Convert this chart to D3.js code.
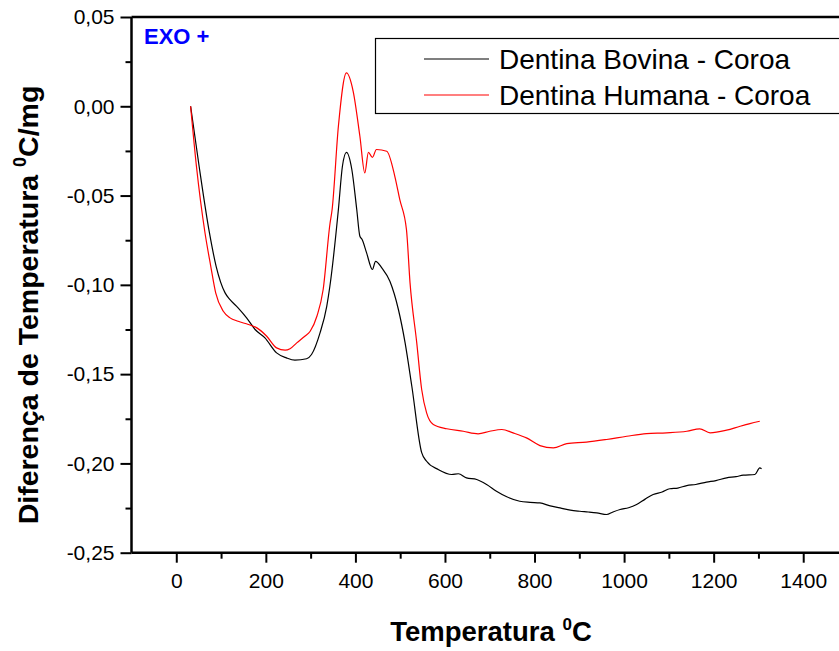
<!DOCTYPE html>
<html>
<head>
<meta charset="utf-8">
<script src="https://cdnjs.cloudflare.com/ajax/libs/d3/7.8.5/d3.min.js"></script>
<style>
  body { margin: 0; background: #fff; }
  svg { display: block; font-family: "Liberation Sans", Arial, sans-serif; }
</style>
</head>
<body>
<div id="chart"></div>
<script>
// temperature (C)
var tempBovina = [32, 51, 74, 89, 109, 120, 138, 157, 176, 198, 224, 246, 265, 291, 302, 321, 336, 343, 362, 371, 380, 392, 403, 410, 415, 425, 438, 445, 459, 477, 496, 511, 526, 548, 559, 585, 615, 630, 648, 671, 693, 715, 738, 767, 790, 812, 835, 857, 880, 901, 920, 939, 961, 975, 991, 1010, 1028, 1047, 1065, 1085, 1102, 1120, 1140, 1160, 1184, 1205, 1229, 1250, 1266, 1292, 1303, 1307];
var valBovina = [0, -0.0336, -0.0708, -0.0896, -0.1045, -0.1083, -0.1129, -0.1185, -0.1250, -0.1297, -0.1381, -0.1409, -0.1422, -0.1414, -0.1390, -0.1269, -0.1120, -0.1008, -0.0578, -0.0336, -0.0258, -0.0354, -0.0578, -0.0728, -0.0746, -0.0821, -0.0914, -0.0868, -0.0905, -0.0980, -0.1138, -0.1325, -0.1568, -0.1940, -0.1988, -0.2034, -0.2062, -0.2058, -0.2081, -0.2090, -0.2118, -0.2156, -0.2187, -0.2212, -0.2218, -0.2221, -0.2238, -0.2249, -0.2262, -0.2268, -0.2272, -0.2277, -0.2286, -0.2272, -0.2258, -0.2248, -0.2230, -0.2200, -0.2174, -0.2160, -0.2142, -0.2138, -0.2124, -0.2118, -0.2105, -0.2096, -0.2081, -0.2074, -0.2066, -0.2062, -0.2025, -0.2030];

var tempHumana = [32, 45, 64, 77, 88, 105, 120, 138, 161, 180, 202, 224, 243, 254, 269, 287, 299, 314, 328, 343, 348, 362, 380, 395, 410, 421, 429, 438, 447, 470, 488, 499, 514, 522, 537, 548, 559, 574, 604, 641, 674, 700, 727, 752, 782, 812, 842, 872, 916, 961, 1006, 1050, 1095, 1140, 1169, 1192, 1229, 1259, 1281, 1303];
var valHumana = [0, -0.0336, -0.0707, -0.0896, -0.1045, -0.1148, -0.1185, -0.1204, -0.1222, -0.1241, -0.1288, -0.1353, -0.1366, -0.1358, -0.1325, -0.1288, -0.1260, -0.1176, -0.1026, -0.0662, -0.0578, -0.0112, 0.0187, 0.0084, -0.0168, -0.0373, -0.0258, -0.0286, -0.0242, -0.0252, -0.0392, -0.0522, -0.0690, -0.0989, -0.1325, -0.1586, -0.1717, -0.1782, -0.1806, -0.1820, -0.1834, -0.1820, -0.1810, -0.1829, -0.1857, -0.1900, -0.1913, -0.1889, -0.1881, -0.1866, -0.1848, -0.1833, -0.1829, -0.1820, -0.1806, -0.1829, -0.1814, -0.1792, -0.1777, -0.1764];

var seriesNames = ["Dentina Bovina - Coroa", "Dentina Humana - Coroa"];
var seriesColors = ["#000000", "#ff0000"];

var xMajor = [0, 200, 400, 600, 800, 1000, 1200, 1400];
var xMinor = [100, 300, 500, 700, 900, 1100, 1300, 1500];
var yMajor = [0.05, 0, -0.05, -0.10, -0.15, -0.20, -0.25];
var yMinor = [0.025, -0.025, -0.075, -0.125, -0.175, -0.225];

var W = 839, H = 651;
var svg = d3.select("#chart").append("svg")
    .attr("width", W)
    .attr("height", H);

var x = d3.scaleLinear().domain([-100, 1500]).range([131.5, 848]);
var y = d3.scaleLinear().domain([-0.25, 0.05]).range([552.7, 17]);

function fmt(d) {
  var s = Math.abs(d).toFixed(2).replace(".", ",");
  return (d < -1e-9 ? "-" : "") + s;
}

// frame top line
svg.append("line")
    .attr("x1", x(-100)).attr("x2", x(1500))
    .attr("y1", y(0.05)).attr("y2", y(0.05))
    .attr("stroke", "#000").attr("stroke-width", 2.5);

// x axis
var xAxis = svg.append("g")
    .attr("transform", "translate(0," + y(-0.25) + ")")
    .call(d3.axisBottom(x).tickValues(xMajor).tickSize(10).tickPadding(10).tickFormat(d3.format("d")));
svg.append("g")
    .attr("transform", "translate(0," + y(-0.25) + ")")
    .call(d3.axisBottom(x).tickValues(xMinor).tickSize(6).tickFormat(""))
    .select(".domain").remove();

// y axis
var yAxis = svg.append("g")
    .attr("transform", "translate(" + x(-100) + ",0)")
    .call(d3.axisLeft(y).tickValues(yMajor).tickSize(11).tickPadding(6).tickFormat(fmt));
svg.append("g")
    .attr("transform", "translate(" + x(-100) + ",0)")
    .call(d3.axisLeft(y).tickValues(yMinor).tickSize(6).tickFormat(""))
    .select(".domain").remove();

svg.selectAll(".domain").attr("stroke-width", 2.5);
xAxis.select(".domain").attr("d", "M" + x(-100) + ",0H" + x(1500));
yAxis.select(".domain").attr("d", "M0," + y(0.05) + "V" + y(-0.25));
svg.selectAll(".tick line").attr("stroke-width", 2);
svg.selectAll(".tick text")
    .attr("font-family", "'Liberation Sans', Arial, sans-serif")
    .attr("font-size", "21px")
    .attr("fill", "#000");

// curves
var line = d3.line()
    .x(function(d) { return x(d[0]); })
    .y(function(d) { return y(d[1]); })
    .curve(d3.curveMonotoneX);

var dataB = tempBovina.map(function(t, i) { return [t, valBovina[i]]; });
var dataH = tempHumana.map(function(t, i) { return [t, valHumana[i]]; });

svg.append("path").datum(dataB)
    .attr("d", line).attr("fill", "none")
    .attr("stroke", seriesColors[0]).attr("stroke-width", 1.2);
svg.append("path").datum(dataH)
    .attr("d", line).attr("fill", "none")
    .attr("stroke", seriesColors[1]).attr("stroke-width", 1.2);

// EXO +
svg.append("text")
    .attr("x", 144).attr("y", 44)
    .attr("fill", "#0000ff")
    .attr("font-weight", "bold")
    .attr("font-size", "22px")
    .text("EXO +");

// legend
svg.append("rect")
    .attr("x", 375.5).attr("y", 38.5)
    .attr("width", 480).attr("height", 75)
    .attr("fill", "#fff").attr("stroke", "#000").attr("stroke-width", 1.2);

var lg = svg.selectAll(".lg").data(seriesNames).enter().append("g")
    .attr("class", "lg")
    .attr("transform", function(d, i) { return "translate(0," + (59 + i * 36) + ")"; });
lg.append("line")
    .attr("x1", 424).attr("x2", 489)
    .attr("stroke", function(d, i) { return seriesColors[i]; })
    .attr("stroke-width", 1.2);
lg.append("text")
    .attr("x", 499).attr("y", 10)
    .attr("font-size", "28px")
    .text(function(d) { return d; });

// axis titles
var xt = svg.append("text")
    .attr("x", 491).attr("y", 641)
    .attr("text-anchor", "middle")
    .attr("font-weight", "bold")
    .attr("font-size", "27.5px");
xt.append("tspan").text("Temperatura ");
xt.append("tspan").attr("font-size", "17px").attr("dy", -11).text("0");
xt.append("tspan").attr("dy", 11).text("C");

var yt = svg.append("text")
    .attr("transform", "translate(38,305) rotate(-90)")
    .attr("text-anchor", "middle")
    .attr("font-weight", "bold")
    .attr("font-size", "28.5px");
yt.append("tspan").text("Diferença de Temperatura ");
yt.append("tspan").attr("font-size", "18px").attr("dy", -12).text("0");
yt.append("tspan").attr("dy", 12).text("C/mg");
</script>
</body>
</html>
